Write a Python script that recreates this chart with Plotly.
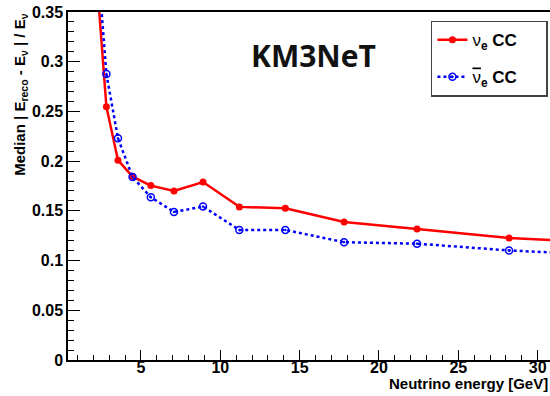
import plotly.graph_objects as go

energy = [2.24, 2.82, 3.55, 4.47, 5.62, 7.08, 8.91, 11.2, 14.1, 17.8, 22.4, 28.2, 35.5]
nue_cc = [0.378, 0.2548, 0.201, 0.1844, 0.1754, 0.170, 0.179, 0.1540, 0.1526, 0.1387, 0.1318, 0.1227, 0.117]
nuebar_cc = [0.408, 0.2877, 0.223, 0.1840, 0.1637, 0.1489, 0.1543, 0.1308, 0.1308, 0.1185, 0.1170, 0.1102, 0.1045]

FONT = "Liberation Sans"
PAD = "\u00a0" * 5

fig = go.Figure()
fig.add_trace(go.Scatter(
    x=energy, y=nue_cc, mode="lines+markers",
    name="<span style='font-weight:normal'>ν</span><sub>e</sub> CC" + PAD,
    line=dict(color="#ff0000", width=2.5),
    marker=dict(symbol="circle", size=7, color="#ff0000"),
    legendgroup="a",
))
fig.add_trace(go.Scatter(
    x=energy, y=nuebar_cc, mode="lines+markers",
    name="<span style='font-weight:normal;text-decoration:overline'>ν</span><sub>e</sub> CC" + PAD,
    line=dict(color="#0000ff", width=2.5, dash="dot"),
    marker=dict(symbol="circle-open-dot", size=7, color="#0000ff", line=dict(width=1.5, color="#0000ff")),
    legendgroup="b",
))

fig.update_layout(
    width=550, height=396,
    margin=dict(l=68, r=0, t=12, b=36, autoexpand=False),
    paper_bgcolor="white", plot_bgcolor="white",
    font=dict(family=FONT, size=16, color="black", weight="bold"),
    showlegend=True,
    legend=dict(
        x=0.753, y=0.975, xanchor="left", yanchor="top",
        bgcolor="white", bordercolor="#444444", borderwidth=1.5,
        font=dict(family=FONT, size=17, color="black", weight="bold"),
        tracegroupgap=12, itemwidth=30,
    ),
    xaxis=dict(
        range=[0.4, 30.78], showgrid=False, zeroline=False, automargin=False,
        showline=True, linecolor="black", linewidth=1.5, mirror=True,
        ticks="inside", ticklen=10, tickwidth=1.2, tickcolor="black",
        tick0=0, dtick=5, ticklabelstandoff=-8, ticklabeloverflow="allow",
        tickfont=dict(family=FONT, size=16, color="black", weight="bold"),
        minor=dict(ticks="inside", ticklen=5, dtick=1, tickcolor="black", tickwidth=1),
    ),
    yaxis=dict(
        range=[0, 0.35], showgrid=False, zeroline=False, automargin=False,
        showline=True, linecolor="black", linewidth=1.5,
        ticks="inside", ticklen=12, tickwidth=1.2, tickcolor="black",
        tick0=0, dtick=0.05, tickformat=".2~f",
        tickfont=dict(family=FONT, size=16, color="black", weight="bold"),
        minor=dict(ticks="inside", ticklen=6, dtick=0.01, tickcolor="black", tickwidth=1),
    ),
)

fig.add_annotation(
    text="Median | E<sub>reco</sub> - E<sub>ν</sub> | / E<sub>ν</sub>",
    xref="paper", yref="paper", x=-0.1, y=1.0, xanchor="center", yanchor="top",
    textangle=-90, showarrow=False,
    font=dict(family=FONT, size=15, color="black", weight="bold"),
)
fig.add_annotation(
    text="Neutrino energy [GeV]",
    xref="paper", yref="paper", x=1.0, y=(360 - 384) / 348, xanchor="right", yanchor="middle",
    showarrow=False,
    font=dict(family=FONT, size=15, color="black", weight="bold"),
)
fig.add_annotation(
    text="KM3NeT",
    xref="paper", yref="paper", x=(313 - 68) / 482, y=(360 - 56) / 348,
    xanchor="center", yanchor="middle", showarrow=False,
    font=dict(family="Open Sans", size=30, color="#111111", weight="bold"),
)

fig.write_html("out.html", config={"displayModeBar": False},
               post_script="document.body.style.margin='0px';")
